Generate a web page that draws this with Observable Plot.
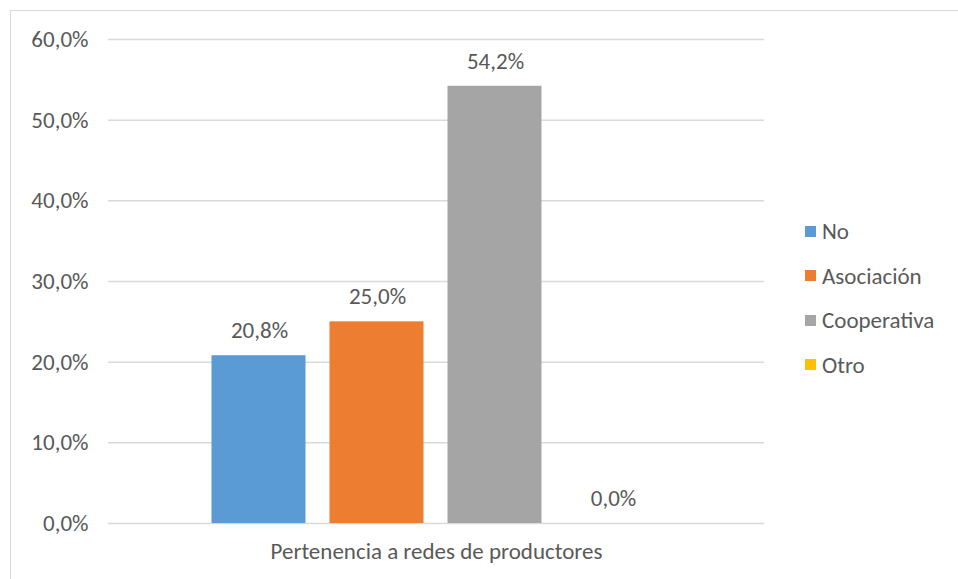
<!DOCTYPE html>
<html>
<head>
<meta charset="utf-8">
<script src="https://cdn.jsdelivr.net/npm/d3@7"></script>
<script src="https://cdn.jsdelivr.net/npm/@observablehq/plot@0.6"></script>
<style>
  html, body { margin: 0; padding: 0; background: #fff; }
  body { width: 958px; height: 579px; position: relative; overflow: hidden; font-family: Carlito, Lato, sans-serif; }
  #frame { position: absolute; left: 10px; top: 10px; width: 960px; height: 600px; border: 1.5px solid #d9d9d9; box-sizing: border-box; pointer-events: none; }
  #chart { position: absolute; left: 0; top: 0; }
  #legend { position: absolute; left: 805px; top: 209px; color: #595959; font-size: 23px; }
  .item { display: flex; align-items: center; height: 44.5px; white-space: nowrap; }
  .sw { width: 11px; height: 11px; margin-right: 6px; flex: none; }
</style>
</head>
<body>
<div id="chart"></div>
<div id="frame"></div>
<div id="legend"></div>
<script>
const categories = ["No", "Asociación", "Cooperativa", "Otro"];
const values = [0.208, 0.25, 0.542, 0.0];
const labels = ["20,8%", "25,0%", "54,2%", "0,0%"];
const colors = ["#5B9BD5", "#ED7D31", "#A5A5A5", "#FFC000"];
const yTicks = [0, 0.1, 0.2, 0.3, 0.4, 0.5, 0.6];
const xTitle = "Pertenencia a redes de productores";

const data = categories.map((c, i) => ({category: c, value: values[i], label: labels[i]}));
const fmt = v => (v * 100).toFixed(1).replace(".", ",") + "%";

const chart = Plot.plot({
  width: 958,
  height: 579,
  marginLeft: 108,
  marginRight: 194,
  marginTop: 39,
  marginBottom: 56,
  style: { fontFamily: "Carlito, Lato, sans-serif", fontSize: "23px", color: "#595959", background: "transparent" },
  x: { domain: categories, paddingInner: 0.207, paddingOuter: 0.871, axis: null },
  y: { domain: [0, 0.6], ticks: yTicks, tickFormat: fmt, tickSize: 0, tickPadding: 20, grid: false, label: null },
  color: { domain: categories, range: colors },
  marks: [
    Plot.ruleY(yTicks, { stroke: "#d9d9d9", strokeWidth: 1.5, strokeOpacity: 1 }),
    Plot.barY(data, { x: "category", y: "value", fill: "category", insetLeft: -0.5, insetRight: 0.5 }),
    Plot.text(data, { x: "category", y: "value", text: "label", dy: -25, fill: "#595959", fontSize: 23 }),
    Plot.text([xTitle], { frameAnchor: "bottom", dy: 35, fill: "#595959", fontSize: 23 })
  ]
});
document.getElementById("chart").appendChild(chart);

const legend = document.getElementById("legend");
categories.forEach((c, i) => {
  const item = document.createElement("div");
  item.className = "item";
  item.innerHTML = `<div class="sw" style="background:${colors[i]}"></div><span>${c}</span>`;
  legend.appendChild(item);
});
</script>
</body>
</html>
